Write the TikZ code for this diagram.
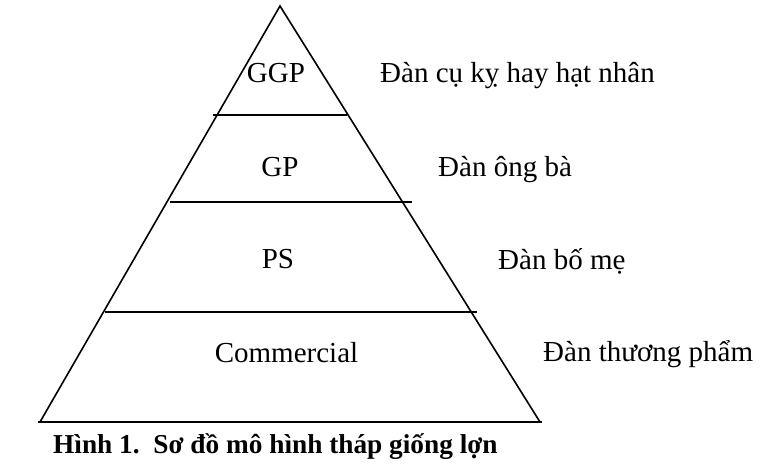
\documentclass[tikz,border=0pt]{standalone}
\usepackage{fontspec}
\setmainfont{Liberation Serif}
\begin{document}
\begin{tikzpicture}[x=1pt,y=-1pt,
  edge/.style={line width=1.6pt,black},
  lbl/.style={font=\fontsize{29}{32}\selectfont,inner sep=0pt,anchor=base},
  side/.style={font=\fontsize{29}{32}\selectfont,inner sep=0pt,anchor=base west},
  captxt/.style={font=\fontsize{27.3}{30}\selectfont\bfseries,inner sep=0pt,anchor=base west}]
\useasboundingbox (0,0) rectangle (779,476);
% triangle
\coordinate (apex) at (280,6);
\coordinate (bl) at (40,422);
\coordinate (br) at (540,422);
\draw[edge,line join=miter] (bl) -- (apex) -- (br);
\coordinate (b0) at (38,422);
\coordinate (b1) at (542,422);
\draw[edge] (b0) -- (b1);
% level lines
\coordinate (l1a) at (213,115); \coordinate (l1b) at (347,115);
\coordinate (l2a) at (170,202); \coordinate (l2b) at (412,202);
\coordinate (l3a) at (105,312); \coordinate (l3b) at (477,312);
\draw[edge] (l1a) -- (l1b);
\draw[edge] (l2a) -- (l2b);
\draw[edge] (l3a) -- (l3b);
% labels inside
\node[lbl] (ggp) at (276,83) {GGP};
\node[lbl] (gp) at (280,176) {GP};
\node[lbl] (ps) at (278,268) {PS};
\node[lbl] (com) at (286.5,362) {Commercial};
% labels right
\node[side] (t1) at (380,83) {Đàn cụ kỵ hay hạt nhân};
\node[side] (t2) at (438,176) {Đàn ông bà};
\node[side] (t3) at (498,269) {Đàn bố mẹ};
\node[side] (t4) at (543,361) {Đàn thương phẩm};
% caption
\node[captxt] (caption) at (53,453) {Hình 1.\ \ Sơ đồ mô hình tháp giống lợn};
\end{tikzpicture}
\end{document}
